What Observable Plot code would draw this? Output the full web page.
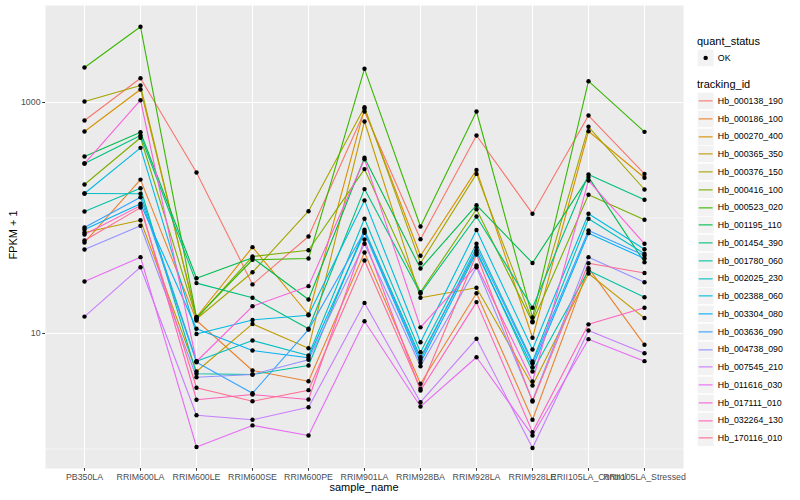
<!DOCTYPE html>
<html><head><meta charset="utf-8">
<script src="https://cdn.jsdelivr.net/npm/d3@7"></script>
<script src="https://cdn.jsdelivr.net/npm/@observablehq/plot@0.6"></script>
<style>
body{margin:0;background:#fff;font-family:"Liberation Sans",Arial,Helvetica,sans-serif;}
#wrap{position:relative;width:800px;height:500px;overflow:hidden;}
#chart{position:absolute;left:0;top:0;}
#legend{position:absolute;left:697px;top:33.5px;}
.lt{font-size:11px;line-height:14px;height:14px;color:#000;white-space:nowrap;}
.row{display:flex;align-items:center;height:17.75px;}
.row svg{flex:none;display:block;}
.lab{font-size:8.8px;margin-left:3.5px;color:#000;white-space:nowrap;}
.axt{position:absolute;font-size:11px;color:#000;white-space:nowrap;}
</style>
</head><body>
<div id="wrap">
  <div id="chart"></div>
  <div id="legend"></div>
  <div class="axt" id="xt">sample_name</div>
  <div class="axt" id="yt">FPKM + 1</div>
</div>
<script>
const samples = ["PB350LA","RRIM600LA","RRIM600LE","RRIM600SE","RRIM600PE","RRIM901LA","RRIM928BA","RRIM928LA","RRIM928LE","RRII105LA_Control","RRII105LA_Stressed"];
const trackingIds = ["Hb_000138_190","Hb_000186_100","Hb_000270_400","Hb_000365_350","Hb_000376_150","Hb_000416_100","Hb_000523_020","Hb_001195_110","Hb_001454_390","Hb_001780_060","Hb_002025_230","Hb_002388_060","Hb_003304_080","Hb_003636_090","Hb_004738_090","Hb_007545_210","Hb_011616_030","Hb_017111_010","Hb_032264_130","Hb_170116_010"];
const quantStatus = ["OK"];

// FPKM + 1 per tracking_id, in sample order
const Hb_000138_190 = [698, 1622, 248, 26.6, 69.2, 836, 65.5, 518, 109, 771, 241];
const Hb_000186_100 = [61.4, 215, 12.96, 4.78, 3.86, 50.3, 3.67, 22.3, 1.79, 36.8, 7.98];
const Hb_000270_400 = [561, 1297, 13.9, 55.9, 14.6, 882, 47.1, 261, 9.18, 564, 223];
const Hb_000365_350 = [74.9, 95.7, 4.69, 12.1, 7.46, 685, 20.4, 24.9, 3.55, 33.1, 13.6];
const Hb_000376_150 = [1020, 1403, 13.35, 33.9, 114.5, 911, 40.6, 241, 12.78, 616, 176.5];
const Hb_000416_100 = [195, 495, 13.5, 46.4, 52.6, 265, 22.8, 119, 12.5, 159, 96.5];
const Hb_000523_020 = [2010, 4523, 13.75, 43.5, 44.6, 1958, 84.4, 836, 13.8, 1529, 557];
const Hb_001195_110 = [341, 553, 30.1, 45.2, 19.7, 332, 36.5, 129, 40.8, 226, 41.4];
const Hb_001454_390 = [296, 518, 27.3, 20.4, 10.98, 178, 22.2, 103, 16.7, 238, 144];
const Hb_001780_060 = [114, 181, 4.48, 4.42, 5.28, 79.0, 6.23, 52.3, 4.69, 35.1, 20.6];
const Hb_002025_230 = [163, 162, 5.76, 8.70, 6.45, 98.4, 6.89, 59.8, 5.72, 98.4, 49.0];
const Hb_002388_060 = [163, 405, 9.9, 13.1, 14.4, 142, 8.41, 78.7, 7.27, 109, 53.7];
const Hb_003304_080 = [79.5, 133, 10.98, 7.12, 6.16, 74.4, 5.58, 50.3, 5.11, 73.9, 44.6];
const Hb_003636_090 = [82.8, 151, 5.64, 3.04, 10.8, 76.4, 5.92, 55.9, 5.53, 78.0, 47.4];
const Hb_004738_090 = [53.4, 85.6, 4.18, 4.42, 5.92, 59.8, 5.21, 37.5, 2.63, 45.8, 27.8];
const Hb_007545_210 = [14.0, 37.5, 1.96, 1.79, 2.30, 18.4, 2.54, 9.00, 1.02, 10.6, 6.75];
const Hb_011616_030 = [28.2, 45.8, 1.04, 1.60, 1.31, 12.78, 2.33, 6.23, 1.31, 8.93, 5.76];
const Hb_017111_010 = [296, 1047, 5.72, 17.2, 25.7, 323, 11.3, 38.8, 3.84, 211, 59.8];
const Hb_032264_130 = [72.0, 128, 2.67, 2.96, 2.68, 65.2, 3.21, 18.7, 1.40, 12.0, 16.7];
const Hb_170116_010 = [63.9, 123, 3.39, 2.59, 3.23, 42.9, 3.32, 48.3, 2.58, 40.6, 33.4];

const seriesValues = [Hb_000138_190, Hb_000186_100, Hb_000270_400, Hb_000365_350, Hb_000376_150, Hb_000416_100, Hb_000523_020, Hb_001195_110, Hb_001454_390, Hb_001780_060, Hb_002025_230, Hb_002388_060, Hb_003304_080, Hb_003636_090, Hb_004738_090, Hb_007545_210, Hb_011616_030, Hb_017111_010, Hb_032264_130, Hb_170116_010];

const rows = [];
trackingIds.forEach((id, k) => seriesValues[k].forEach((v, j) =>
  rows.push({tracking_id: id, sample_name: samples[j], fpkm1: v, quant_status: quantStatus[0]})));

// ggplot2 default hue palette for 20 levels
const palette = ["#F8766D","#EA8331","#D89000","#C09B00","#A3A500","#7CAE00","#39B600","#00BB4E","#00BF7D","#00C1A3","#00BFC4","#00BAE0","#00B0F6","#35A2FF","#9590FF","#C77CFF","#E76BF3","#FA62DB","#FF62BC","#FF6C91"];

const font = '"Liberation Sans", Arial, Helvetica, sans-serif';
const chart = Plot.plot({
  width: 690, height: 500,
  marginLeft: 45, marginRight: 7, marginTop: 5, marginBottom: 32,
  style: {fontFamily: font, background: "transparent", overflow: "visible"},
  x: {type: "point", domain: samples, padding: 0.6, axis: null},
  y: {type: "log", domain: [Math.pow(10, -0.169), Math.pow(10, 3.84)], axis: null},
  color: {domain: trackingIds, range: palette},
  marks: [
    Plot.frame({fill: "#EBEBEB", stroke: "none"}),
    Plot.gridY([1, 100], {stroke: "#fff", strokeOpacity: 1, strokeWidth: 0.55}),
    Plot.gridY([10, 1000], {stroke: "#fff", strokeOpacity: 1, strokeWidth: 1.1}),
    Plot.gridX(samples, {stroke: "#fff", strokeOpacity: 1, strokeWidth: 1.1}),
    Plot.line(rows, {x: "sample_name", y: "fpkm1", z: "tracking_id", stroke: "tracking_id", strokeWidth: 1.1}),
    Plot.dot(rows, {x: "sample_name", y: "fpkm1", r: 2.2, fill: "#000", stroke: "none"}),
    Plot.axisX({tickSize: 2.75, tickPadding: 2.2, fontSize: 8.8, fill: "#4D4D4D", stroke: "#333", label: null}),
    Plot.axisY({ticks: [10, 1000], tickFormat: d => String(d), tickSize: 2.75, tickPadding: 2.2, fontSize: 8.8, fill: "#4D4D4D", stroke: "#333", label: null})
  ]
});
document.getElementById("chart").appendChild(chart);

// axis titles
const xt = document.getElementById("xt");
xt.style.left = (364 - xt.offsetWidth / 2) + "px";
xt.style.top = (488 - 7) + "px";
const yt = document.getElementById("yt");
yt.style.left = (12 - yt.offsetWidth / 2) + "px";
yt.style.top = (236 - 7) + "px";
yt.style.transform = "rotate(-90deg)";

// legend (keys drawn as small svgs)
const KW = 17.3, KH = 17.75;
function key(sel) {
  const s = sel.append("svg").attr("width", KW).attr("height", KH);
  s.append("rect").attr("x", 0.3).attr("y", 0.3).attr("width", KW - 0.6).attr("height", KH - 0.6)
    .attr("fill", "#F2F2F2").attr("stroke", "#fff").attr("stroke-width", 0.6);
  return s;
}
const lg = d3.select("#legend");
lg.append("div").attr("class", "lt").text("quant_status");
lg.append("div").style("height", "1.5px");
quantStatus.forEach(q => {
  const r = lg.append("div").attr("class", "row");
  key(r).append("circle").attr("cx", KW / 2).attr("cy", KH / 2).attr("r", 2.2).attr("fill", "#000");
  r.append("div").attr("class", "lab").text(q);
});
lg.append("div").style("height", "10.3px");
lg.append("div").attr("class", "lt").text("tracking_id");
lg.append("div").style("height", "1px");
trackingIds.forEach((id, k) => {
  const r = lg.append("div").attr("class", "row");
  key(r).append("line").attr("x1", 1.7).attr("x2", KW - 1.7).attr("y1", KH / 2).attr("y2", KH / 2)
    .attr("stroke", palette[k]).attr("stroke-width", 1.1);
  r.append("div").attr("class", "lab").text(id);
});
</script>
</body></html>
